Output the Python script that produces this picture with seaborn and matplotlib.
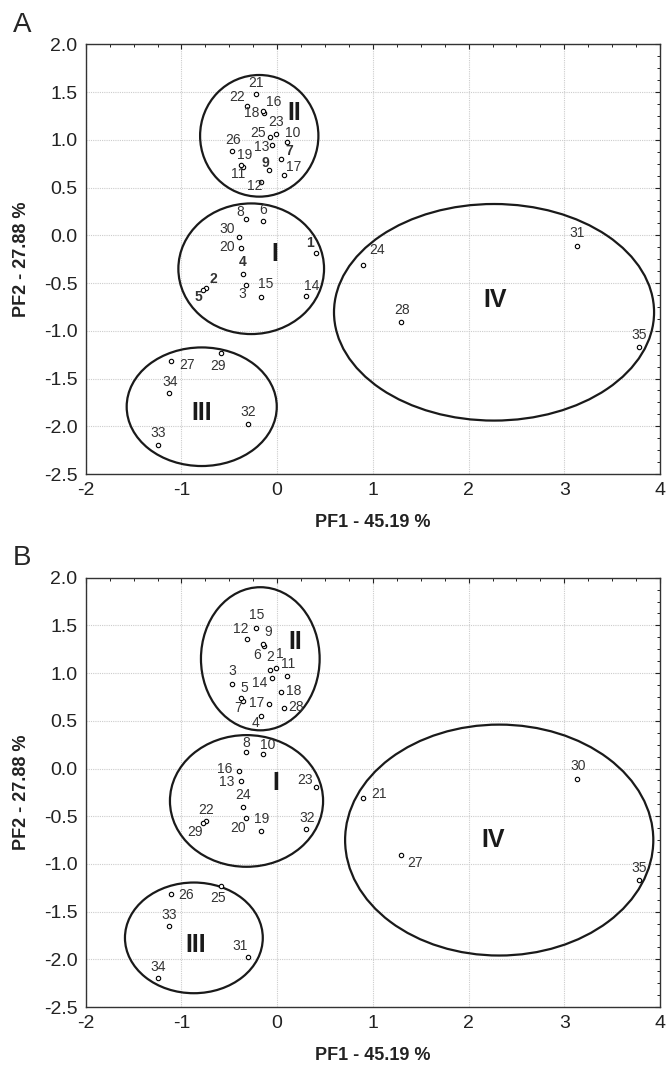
import matplotlib
matplotlib.use("Agg")
import matplotlib.pyplot as plt
from matplotlib import font_manager
from matplotlib.patches import Ellipse
from matplotlib.ticker import MultipleLocator, FormatStrFormatter
import pandas as pd
import seaborn as sns

# PCA scores (same 35 samples in both panels), listed in panel A label order
pf1 = [0.403, -0.746, -0.325, -0.360, -0.771, -0.147, 0.041, -0.325, -0.081, 0.107,
       -0.360, -0.165, -0.057, 0.302, -0.172, -0.137, 0.069, -0.151, -0.381, -0.374,
       -0.224, -0.318, -0.011, 0.901, -0.074, -0.475, -1.112, 1.295, -0.586, -0.395,
       3.130, -0.308, -1.248, -1.126, 3.785]
pf2 = [-0.189, -0.548, -0.517, -0.402, -0.573, 0.150, 0.802, 0.171, 0.680, 0.973,
       0.712, 0.555, 0.946, -0.636, -0.650, 1.284, 0.631, 1.302, 0.736, -0.133,
       1.476, 1.357, 1.057, -0.311, 1.033, 0.886, -1.313, -0.904, -1.236, -0.021,
       -0.109, -1.976, -2.199, -1.648, -1.166]
labels_a = ["1", "2", "3", "4", "5", "6", "7", "8", "9", "10", "11", "12", "13", "14",
            "15", "16", "17", "18", "19", "20", "21", "22", "23", "24", "25", "26", "27",
            "28", "29", "30", "31", "32", "33", "34", "35"]
labels_b = ["23", "22", "20", "24", "29", "10", "18", "8", "17", "11", "7", "4", "14",
            "32", "19", "9", "28", "6", "5", "13", "15", "12", "1", "21", "2", "3", "26",
            "27", "25", "16", "30", "31", "34", "33", "35"]
bold_a = ["1", "2", "4", "5", "7", "9"]

groups = ["I", "II", "III", "IV"]

# label offsets from the point, in pixels (x right, y down)
off_a = {"1": (-5.7, -10), "2": (7.7, -8.3), "3": (-3.3, 9.3), "4": (0, -12), "5": (-5, 7.3),
         "6": (0, -11), "7": (8, -8), "8": (-6, -7.3), "9": (-3.7, -7.7), "10": (5, -9.7),
         "11": (-5, 6.7), "12": (-7, 3.7), "13": (-10, 2.3), "14": (5.7, -10.3),
         "15": (5.3, -13), "16": (10, -11), "17": (9.7, -8.3), "18": (-11, 2.3),
         "19": (4.3, -10), "20": (-14, -1.3), "21": (0, -11.7), "22": (-10, -9),
         "23": (0, -12.7), "24": (13.3, -15), "25": (-11.7, -4), "26": (1.7, -10.7),
         "27": (16.7, 4.3), "28": (0.7, -11.7), "29": (-2.7, 12.7), "30": (-12, -8.3),
         "31": (0, -12.3), "32": (0.7, -12.3), "33": (0.7, -12), "34": (0.7, -11),
         "35": (0, -11.7)}
off_b = {"15": (1, -12.7), "12": (-6.3, -10), "9": (3.7, -13.7), "6": (-5.3, 10.7),
         "2": (0, -12.7), "1": (3.3, -13.3), "11": (1, -12), "14": (-11.7, 5),
         "3": (1, -13.3), "5": (4, -10), "7": (-5, 7.7), "18": (12.3, -1), "17": (-13, -0.7),
         "28": (12.7, -1), "4": (-5.7, 7), "8": (0, -9), "10": (4.7, -9.3),
         "16": (-14.3, -1.7), "13": (-14.3, 1.3), "23": (-10.7, -6.7), "24": (0.7, -11.7),
         "22": (0.7, -11), "29": (-8.3, 9.3), "20": (-7.7, 9.7), "19": (1, -12),
         "32": (1, -11), "26": (15, 1), "25": (-3, 12), "33": (0, -11), "31": (-8, -11),
         "34": (0.7, -11.7), "21": (15.7, -4.3), "30": (1.7, -13), "27": (14, 8.3),
         "35": (0, -11.7)}

# cluster ellipses: centre x, centre y, half width, half height
ell_a = {"I": (-0.271, -0.350, 0.761, 0.684), "II": (-0.187, 1.042, 0.618, 0.637),
         "III": (-0.788, -1.795, 0.784, 0.621), "IV": (2.266, -0.806, 1.672, 1.134)}
ell_b = {"I": (-0.32, -0.34, 0.80, 0.69), "II": (-0.176, 1.15, 0.62, 0.75),
         "III": (-0.87, -1.775, 0.72, 0.58), "IV": (2.32, -0.75, 1.61, 1.21)}
num_a = {"I": (-0.022, -0.196), "II": (0.177, 1.277), "III": (-0.788, -1.864), "IV": (2.277, -0.678)}
num_b = {"I": (-0.011, -0.153), "II": (0.187, 1.330), "III": (-0.85, -1.85), "IV": (2.259, -0.747)}

sns.set_style("white")
plt.rcParams["font.family"] = ["Liberation Sans", "DejaVu Sans"]
plt.rcParams["axes.unicode_minus"] = False

# narrow bold face for the cluster numerals, if it is there
installed = {f.name for f in font_manager.fontManager.ttflist}
num_font = "Liberation Sans Narrow" if "Liberation Sans Narrow" in installed else "Liberation Sans"
num_size = 20 if num_font == "Liberation Sans Narrow" else 18

df = pd.DataFrame({"PF1": pf1, "PF2": pf2, "A": labels_a, "B": labels_b})

fig = plt.figure(figsize=(6.66, 10.66), dpi=100)
ax_a = fig.add_axes([0.1287, 0.5553, 0.8623, 0.4031])
ax_b = fig.add_axes([0.1287, 0.0553, 0.8623, 0.4028])


def draw_panel(ax, col, offs, ells, nums, bold):
    sns.scatterplot(data=df, x="PF1", y="PF2", ax=ax, marker="o", s=10,
                    facecolor="white", edgecolor="black", linewidth=0.8, zorder=4)
    for _, r in df.iterrows():
        lab = r[col]
        dx, dy = offs[lab]
        ax.annotate(lab, (r["PF1"], r["PF2"]), xytext=(dx * 0.72, -dy * 0.72),
                    textcoords="offset points", ha="center", va="center",
                    fontsize=10, color="#333333",
                    fontweight="bold" if lab in bold else "normal", zorder=5)
    for g in groups:
        cx, cy, hw, hh = ells[g]
        ax.add_patch(Ellipse((cx, cy), 2 * hw, 2 * hh, fill=False,
                             edgecolor="#1a1a1a", linewidth=1.6, zorder=3))
        tx, ty = nums[g]
        ax.text(tx, ty, g, ha="center", va="center", fontsize=num_size,
                fontweight="bold", family=num_font, color="#1a1a1a", zorder=5)

    ax.set_xlim(-2, 4)
    ax.set_ylim(-2.5, 2.0)
    ax.xaxis.set_major_locator(MultipleLocator(1))
    ax.xaxis.set_minor_locator(MultipleLocator(0.25))
    ax.yaxis.set_major_locator(MultipleLocator(0.5))
    ax.yaxis.set_minor_locator(MultipleLocator(0.125))
    ax.yaxis.set_major_formatter(FormatStrFormatter("%.1f"))
    ax.xaxis.set_major_formatter(FormatStrFormatter("%d"))
    ax.tick_params(which="both", direction="in", top=True, right=True,
                   colors="#222222", labelsize=14, pad=6)
    ax.tick_params(which="major", length=3.5, width=0.8)
    ax.tick_params(which="minor", length=2, width=0.7)
    ax.grid(True, which="major", color="#cccccc", linestyle=(0, (1, 1)), linewidth=0.8)
    ax.set_axisbelow(True)
    for sp in ax.spines.values():
        sp.set_color("#333333")
        sp.set_linewidth(1.0)
    ax.set_xlabel("PF1 - 45.19 %", fontsize=13, fontweight="bold", color="#222222")
    ax.set_ylabel("PF2 - 27.88 %", fontsize=13, fontweight="bold", color="#222222")
    ax.xaxis.set_label_coords(0.5, -0.112)
    ax.xaxis.label.set_verticalalignment("center")
    ax.yaxis.set_label_coords(-0.112, 0.5)
    ax.yaxis.label.set_verticalalignment("center")


draw_panel(ax_a, "A", off_a, ell_a, num_a, bold_a)
draw_panel(ax_b, "B", off_b, ell_b, num_b, [])

fig.text(22 / 666, 1 - 25 / 1066, "A", ha="center", va="center", fontsize=20)
fig.text(22 / 666, 1 - 558 / 1066, "B", ha="center", va="center", fontsize=20)

fig.savefig("out.png", dpi=100)
